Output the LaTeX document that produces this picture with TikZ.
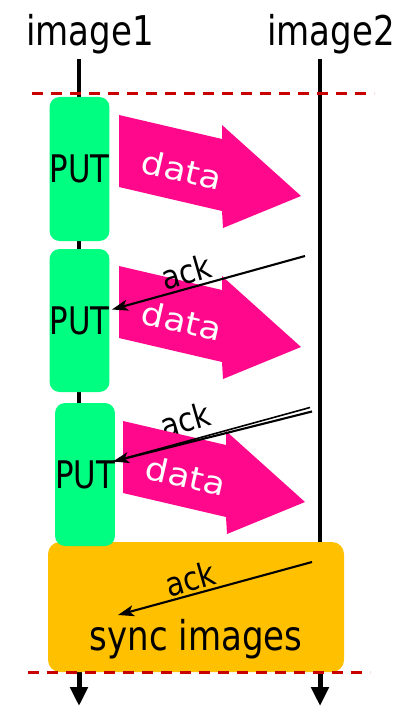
\documentclass[tikz,border=0pt]{standalone}
\usepackage{fontspec}
\setmainfont{DejaVu Sans}
\usetikzlibrary{arrows.meta}
\definecolor{putgreen}{RGB}{0,255,128}
\definecolor{datapink}{RGB}{255,8,140}
\definecolor{syncorange}{RGB}{255,192,0}
\definecolor{dashred}{RGB}{200,0,0}
\newcommand{\sqz}[2][0.83]{\scalebox{#1}[1]{#2}}
\tikzset{
  lifeline/.style={line width=3.5pt},
  lifeend/.style={line width=5pt,-{Triangle[length=19pt,width=17pt]}},
  barrier/.style={dashred,line width=3pt,dash pattern=on 11pt off 8pt},
  lbl/.style={anchor=base,inner sep=0pt,font=\fontsize{41}{41}\selectfont},
  putbox/.style={fill=putgreen,rounded corners=10pt,inner sep=0pt,font=\fontsize{38}{38}\selectfont},
  syncbox/.style={fill=syncorange,rounded corners=12pt,inner sep=0pt},
  datatxt/.style={text=white,inner sep=0pt,font=\fontsize{32}{32}\selectfont},
  acktxt/.style={inner sep=0pt,font=\fontsize{33}{33}\selectfont},
  ackline/.style={line width=2.1pt,-{Stealth[length=16pt,width=11pt,inset=4pt]}},
  ackthin/.style={line width=1.6pt},
  pics/dataarrow/.style={code={
    \fill[datapink] (119,115) -- (222,139) -- (222,125) -- (301,196) -- (223,228) -- (222,211) -- (119,187) -- cycle;
  }}
}
\begin{document}
\begin{tikzpicture}[x=1pt,y=-1pt]
\useasboundingbox (0,0) rectangle (398,706);
% lifelines
\coordinate (t1) at (79,59);
\coordinate (m1) at (79,672);
\coordinate (b1) at (79,706);
\coordinate (t2) at (320,59);
\coordinate (m2) at (320,672);
\coordinate (b2) at (320,706);
\draw[lifeline] (t1) -- (m1);
\draw[lifeline] (t2) -- (m2);
\draw[lifeend] (m1) -- (b1);
\draw[lifeend] (m2) -- (b2);
% sync box
\node[syncbox,minimum width=296pt,minimum height=130pt] (sync) at (196,607) {};
% PUT boxes
\node[putbox,minimum width=53pt,minimum height=144pt] (p1) at (79.5,169) {\sqz[0.81]{PUT}};
\node[putbox,minimum width=53pt,minimum height=143pt] (p2) at (79.5,320.5) {\sqz[0.81]{PUT}};
\node[putbox,minimum width=52pt,minimum height=143pt] (p3) at (85,474.5) {\sqz[0.81]{PUT}};
% data arrow 1
\pic at (0,0) {dataarrow};
\node[datatxt,rotate=-13] (d1) at (182,170) {\sqz[1.12]{data}};
% data arrow 2
\pic at (0,151) {dataarrow};
\node[datatxt,rotate=-13] (d2) at (182,321) {\sqz[1.12]{data}};
% ack 1
\coordinate (a1s) at (305,256);
\coordinate (a1e) at (112,309.5);
\node[acktxt,rotate=16] (k1) at (186,272) {\sqz[0.88]{ack}};
\draw[ackline] (a1s) -- (a1e);
% ack 2 text (under data arrow 3)
\node[acktxt,rotate=16] (k2) at (185,420) {\sqz[0.88]{ack}};
% data arrow 3
\pic at (4,306) {dataarrow};
\node[datatxt,rotate=-13] (d3) at (186,476) {\sqz[1.12]{data}};
% ack 2 double line
\coordinate (a2s) at (310,407.5);
\coordinate (a2t) at (312,411.5);
\coordinate (a2e) at (113,461.5);
\draw[ackthin] (a2s) -- (a2e);
\draw[ackline] (a2t) -- (a2e);
% ack 3
\coordinate (a3s) at (312,562);
\coordinate (a3e) at (118,615);
\node[acktxt,rotate=16] (k3) at (190,579) {\sqz[0.88]{ack}};
\draw[ackline] (a3s) -- (a3e);
\node[lbl] (st) at (196,650) {\sqz{sync images}};
% barriers
\coordinate (r1a) at (32,94);
\coordinate (r1b) at (374,94);
\coordinate (r2a) at (28,672);
\coordinate (r2b) at (370,672);
\draw[barrier] (r1a) -- (r1b);
\draw[barrier] (r2a) -- (r2b);
% labels
\node[lbl] (i1) at (90,46) {\sqz{image1}};
\node[lbl] (i2) at (331,46) {\sqz{image2}};
\end{tikzpicture}
\end{document}
